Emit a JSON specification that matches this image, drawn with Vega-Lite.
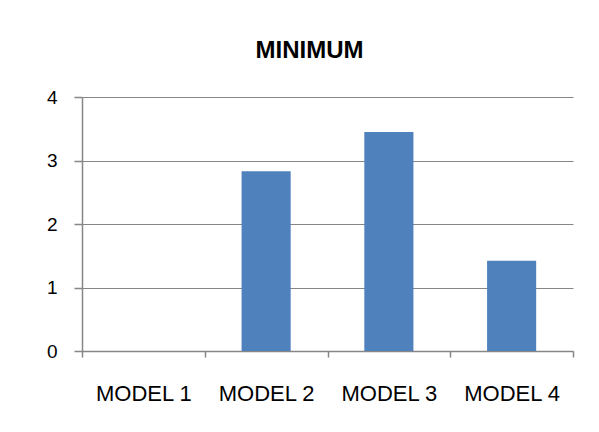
{
  "$schema": "https://vega.github.io/schema/vega-lite/v6.json",
  "width": 491,
  "height": 254,
  "autosize": {"type": "none"},
  "padding": {"left": 82, "top": 97, "right": 26, "bottom": 81},
  "background": "white",
  "title": {
    "text": "MINIMUM",
    "fontSize": 24,
    "font": "Liberation Sans",
    "fontWeight": "bold",
    "color": "black",
    "anchor": "middle",
    "dx": -18,
    "offset": 25
  },
  "data": {
    "values": [
      {"model": "MODEL 1", "value": 0},
      {"model": "MODEL 2", "value": 2.83},
      {"model": "MODEL 3", "value": 3.45},
      {"model": "MODEL 4", "value": 1.42}
    ]
  },
  "mark": {"type": "bar", "color": "#4F81BD", "width": {"band": 0.4}},
  "encoding": {
    "x": {
      "field": "model",
      "type": "nominal",
      "sort": null,
      "scale": {"paddingInner": 0, "paddingOuter": 0},
      "axis": {
        "title": null,
        "labelAngle": 0,
        "tickBand": "extent",
        "tickSize": 6,
        "tickWidth": 1.5,
        "tickColor": "#868686",
        "domainColor": "#868686",
        "domainWidth": 1.5,
        "labelFontSize": 22,
        "labelFont": "Liberation Sans",
        "labelColor": "black",
        "labelPadding": 26,
        "grid": false
      }
    },
    "y": {
      "field": "value",
      "type": "quantitative",
      "scale": {"domain": [0, 4]},
      "axis": {
        "title": null,
        "values": [0, 1, 2, 3, 4],
        "tickSize": 8,
        "tickWidth": 1.5,
        "tickColor": "#868686",
        "domainColor": "#868686",
        "domainWidth": 1.5,
        "gridColor": "#868686",
        "gridWidth": 1.2,
        "labelFontSize": 19,
        "labelFont": "Liberation Sans",
        "labelColor": "black",
        "labelPadding": 17
      }
    }
  },
  "config": {"view": {"stroke": null}}
}
